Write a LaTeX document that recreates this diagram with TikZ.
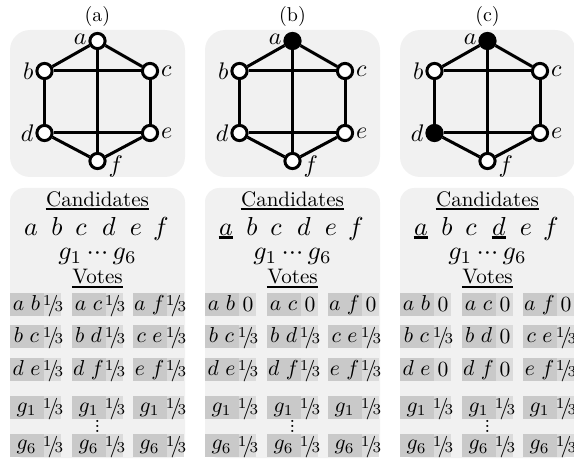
\documentclass[tikz,border=0pt]{standalone}
\definecolor{bgg}{gray}{0.945}
\definecolor{darkc}{gray}{0.79}
\definecolor{lightc}{gray}{0.86}
\newcommand{\third}{\raisebox{0.6ex}{\scriptsize 1}\kern-0.18em/\kern-0.18em{\scriptsize 3}}
\newcommand{\myvdots}{\vbox{\baselineskip=2.5pt\lineskiplimit=-10pt\hbox{.}\hbox{.}\hbox{.}}}
\tikzset{
  panelbg/.style={fill=bgg, rounded corners=10pt},
  lowbg/.style={fill=bgg, rounded corners=7pt},
  gnode/.style={circle, draw=black, line width=1.5pt, fill=white, minimum size=7.6pt, inner sep=0pt},
  gedge/.style={line width=1.5pt},
  lbl/.style={inner sep=0.6pt, scale=1.2},
  txt/.style={inner sep=0pt},
  big/.style={inner sep=0pt, scale=1.3},
  ul/.style={line width=1.1pt},
}
\newcommand{\votecell}[6]{% name, x, y, pair, value, baseline offset
  \fill[darkc] (#2,#3) rectangle ++(34,23);
  \fill[lightc] (#2+34,#3) rectangle ++(17,23);
  \node[txt, scale=1.08, anchor=base] (#1p) at (#2+16.5,#3+#6) {$#4$};
  \node[txt, scale=1.08, anchor=base] (#1v) at (#2+43,#3+18.5) {#5};
}
\begin{document}
\begin{tikzpicture}[x=0.5pt,y=-0.5pt]
\useasboundingbox (0,0) rectangle (574,460);
\foreach \ox/\lab/\fa/\fd/\vab/\vac/\vaf/\vbc/\vbd/\vce/\vde/\vdf/\vef in {
  0/a/white/white/\third/\third/\third/\third/\third/\third/\third/\third/\third,
  195/b/black/white/0/0/0/\third/\third/\third/\third/\third/\third,
  390/c/black/black/0/0/0/\third/0/\third/0/0/\third}{
  % backgrounds
  \fill[panelbg] (\ox+10,30) rectangle (\ox+185,177);
  \fill[lowbg] (\ox+10,188) rectangle (\ox+185,458);
  % title
  \node[txt, anchor=base] (t\lab) at (\ox+97.5,22) {(\lab)};
  % graph
  \node[gnode, fill=\fa, label={[lbl, yshift=0.6pt]left:$a$}] (\lab a) at (\ox+97.5,41) {};
  \node[gnode, label={[lbl]left:$b$}] (\lab b) at (\ox+44.5,71) {};
  \node[gnode, label={[lbl]right:$c$}] (\lab c) at (\ox+150,71) {};
  \node[gnode, fill=\fd, label={[lbl]left:$d$}] (\lab d) at (\ox+44.5,133) {};
  \node[gnode, label={[lbl]right:$e$}] (\lab e) at (\ox+150,133) {};
  \node[gnode, label={[lbl, yshift=-2.5pt]right:$f$}] (\lab f) at (\ox+97.5,161) {};
  \foreach \u/\v in {a/b,a/c,a/f,b/c,b/d,c/e,d/e,d/f,e/f}
    \draw[gedge] (\lab\u) -- (\lab\v);
  % candidates
  \node[txt, scale=1.05, anchor=base] (cand\lab) at (\ox+97.5,206) {Candidates};
  \draw[ul] ([yshift=-1.4pt]cand\lab.base west) -- ([yshift=-1.4pt]cand\lab.base east);
  \foreach \l/\dx in {a/21,b/47,c/71,d/99,e/126,f/151}
    \node[big, anchor=base] (cl\lab\l) at (\ox+10+\dx,235) {$\l$};
  \node[big, anchor=base] (gg\lab) at (\ox+97.5,260) {$g_1\,{\cdotp}{\cdotp}{\cdotp}\,g_6$};
  \node[txt, scale=1.05, anchor=base] (votes\lab) at (\ox+97.5,284) {Votes};
  \draw[ul] ([yshift=-1.4pt]votes\lab.base west) -- ([yshift=-1.4pt]votes\lab.base east);
  % vote cells
  \votecell{ab\lab}{\ox+10}{293}{a\hspace{3pt}b}{\vab}{18}
  \votecell{ac\lab}{\ox+72}{293}{a\hspace{3pt}c}{\vac}{18}
  \votecell{af\lab}{\ox+133}{293}{a\hspace{3pt}f}{\vaf}{18}
  \votecell{bc\lab}{\ox+10}{325}{b\hspace{3pt}c}{\vbc}{18}
  \votecell{bd\lab}{\ox+72}{325}{b\hspace{3pt}d}{\vbd}{18}
  \votecell{ce\lab}{\ox+133}{325}{c\hspace{3pt}e}{\vce}{18}
  \votecell{de\lab}{\ox+10}{358}{d\hspace{3pt}e}{\vde}{18}
  \votecell{df\lab}{\ox+72}{358}{d\hspace{3pt}f}{\vdf}{18}
  \votecell{ef\lab}{\ox+133}{358}{e\hspace{3pt}f}{\vef}{18}
  \votecell{ga\lab}{\ox+10}{396}{g_1}{\third}{16}
  \votecell{gb\lab}{\ox+72}{396}{g_1}{\third}{16}
  \votecell{gc\lab}{\ox+133}{396}{g_1}{\third}{16}
  \votecell{ha\lab}{\ox+10}{434}{g_6}{\third}{16}
  \votecell{hb\lab}{\ox+72}{434}{g_6}{\third}{16}
  \votecell{hc\lab}{\ox+133}{434}{g_6}{\third}{16}
  \node[txt] (vd\lab) at (\ox+97.5,426.5) {\myvdots};
}
% underlined (selected) candidates
\draw[ul] ([yshift=-1.3pt]clba.base west) -- ([yshift=-1.3pt]clba.base east);
\draw[ul] ([yshift=-1.3pt]clca.base west) -- ([yshift=-1.3pt]clca.base east);
\draw[ul] ([yshift=-1.3pt]clcd.base west) -- ([yshift=-1.3pt]clcd.base east);
\end{tikzpicture}
\end{document}
